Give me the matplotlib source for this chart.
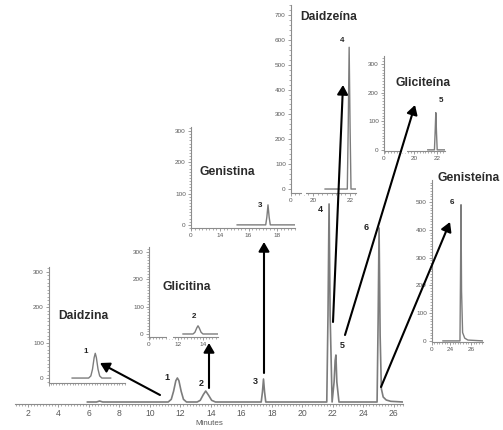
import matplotlib

matplotlib.use("Agg")
import matplotlib.pyplot as plt
from matplotlib.patches import FancyArrowPatch
from matplotlib.ticker import MultipleLocator

plt.rcParams["font.family"] = ["Liberation Sans", "DejaVu Sans"]

W, H = 503, 430
TRACE = "#7c7c7c"
AXIS = "#8c8c8c"
TICKTXT = "#5a5a5a"

# main chromatogram (minutes, signal)
main_t = [5.9, 6.5, 6.7, 6.9, 11.2, 11.4, 11.55, 11.7, 11.8, 11.9, 12.05, 12.2, 12.4,
          13.1, 13.3, 13.5, 13.66, 13.85, 14.05, 14.3, 17.3, 17.38, 17.45, 17.52, 17.6,
          21.6, 21.68, 21.75, 21.82, 21.95, 22.08, 22.15, 22.2, 22.26, 22.4,
          24.9, 24.97, 25.03, 25.1, 25.18, 25.3, 25.5, 25.8, 26.6]
main_y = [0, 0, 3, 0, 0, 8, 32, 64, 72, 64, 32, 8, 0,
          0, 5, 22, 33, 20, 5, 0, 0, 30, 69, 30, 0,
          0, 260, 594, 260, 0, 60, 125, 141, 60, 0,
          0, 250, 522, 200, 40, 15, 6, 2, 0]
main_xticks = [2, 4, 6, 8, 10, 12, 14, 16, 18, 20, 22, 24, 26]
peak_ids = ["1", "2", "3", "4", "5", "6"]
peak_t = [11.8, 13.66, 17.45, 21.75, 22.2, 25.03]
peak_y = [72, 33, 69, 594, 141, 522]

# standards (one inset per compound)
names = ["Daidzina", "Glicitina", "Genistina", "Daidzeína", "Gliciteína", "Genisteína"]
daidzina_t = [9.7, 11.2, 11.4, 11.55, 11.7, 11.8, 11.9, 12.05, 12.2, 12.4, 13.2]
daidzina_y = [0, 0, 6, 25, 58, 70, 58, 25, 6, 0, 0]
glicitina_t = [12.4, 13.2, 13.35, 13.5, 13.6, 13.7, 13.85, 14.0, 15.2]
glicitina_y = [0, 0, 6, 22, 30, 22, 6, 0, 0]
genistina_t = [15.2, 17.2, 17.28, 17.36, 17.44, 17.52, 19.25]
genistina_y = [0, 0, 25, 64, 25, 0, 0]
daidzeina_t = [20.65, 21.85, 21.9, 21.95, 22.0, 22.05, 22.32]
daidzeina_y = [0, 0, 250, 570, 250, 0, 0]
gliciteina_t = [21.2, 21.78, 21.84, 21.9, 21.96, 22.02, 22.7]
gliciteina_y = [0, 0, 60, 130, 60, 0, 0]
genisteina_t = [23.33, 24.95, 25.0, 25.05, 25.1, 25.2, 25.4, 25.7, 27.1]
genisteina_y = [0, 0, 230, 490, 180, 30, 10, 3, 0]

inset_t = [daidzina_t, glicitina_t, genistina_t, daidzeina_t, gliciteina_t, genisteina_t]
inset_y = [daidzina_y, glicitina_y, genistina_y, daidzeina_y, gliciteina_y, genisteina_y]
inset_yticks = [[0, 100, 200, 300]] * 3 + [list(range(0, 800, 100)), [0, 100, 200, 300],
                                           [0, 100, 200, 300, 400, 500]]
inset_xticks = [[], [12, 14], [14, 16, 18], [20, 22], [20, 22], [24, 26]]

# layout (pixels) : left, top, right, bottom ; limits
inset_box = [(49, 267, 125, 383), (149, 247, 218, 337), (191, 127, 295, 228),
             (291, 5, 356, 193), (384, 56, 445, 151), (432, 180, 483, 342)]
inset_xlim = [(7.6, 14.5), (9.68, 15.2), (11.97, 19.25), (18.81, 22.32), (17.39, 22.7), (22.29, 27.14)]
inset_ylim = [(-14, 314), (-11, 318), (-10, 313), (-16, 740), (-4, 328), (-4, 579)]
inset_gap = [None, (11.1, 11.6), None, (19.4, 19.62), (19.0, 19.35), None]
title_pos = [(83, 316), (187, 287), (227, 172), (329, 17), (423, 83), (469, 178)]
label_off = [(-10, 2), (-4, 9), (-8, -1), (-7, 7), (5, 12), (-9, 2)]
main_label_off = [(-10, 1), (-4, 8), (-8, -3), (-9, -6), (6, 10), (-13, 0)]
arrows = [((160, 395), (100, 363)), ((209, 388), (209, 343)), ((264, 373), (264, 242)),
          ((333, 322), (343, 85)), ((345, 335), (415, 105)), ((381, 387), (450, 222))]


def box(left, top, right, bottom):
    return [left / W, 1 - bottom / H, (right - left) / W, (bottom - top) / H]


def style_axis(ax, left=True):
    for side in ["top", "right"]:
        ax.spines[side].set_visible(False)
    ax.spines["bottom"].set_color(AXIS)
    ax.spines["bottom"].set_linewidth(0.8)
    ax.spines["left"].set_color(AXIS)
    ax.spines["left"].set_linewidth(0.8)
    ax.spines["left"].set_visible(left)
    ax.patch.set_alpha(0)
    ax.tick_params(which="major", length=2.2, width=0.6, color=AXIS, pad=1.5, colors=TICKTXT)
    ax.tick_params(which="minor", length=1.3, width=0.5, color=AXIS)


fig = plt.figure(figsize=(W / 100, H / 100), dpi=100)

ax = fig.add_axes(box(15, 100, 403, 404))
ax.plot(main_t, main_y, color=TRACE, lw=1.2)
ax.set_xlim(1.15, 26.6)
ax.set_ylim(-6, 906)
style_axis(ax, left=False)
ax.set_yticks([])
ax.set_xticks(main_xticks)
ax.xaxis.set_minor_locator(MultipleLocator(0.2))
ax.tick_params(axis="x", labelsize=6.2)
ax.set_xlabel("Minutes", fontsize=5.8, color=TICKTXT, labelpad=1)
for pid, t, y, off in zip(peak_ids, peak_t, peak_y, main_label_off):
    ax.annotate(pid, (t, y), xytext=off, textcoords="offset pixels", ha="center", va="center",
                fontsize=6.5, fontweight="bold", color="#222222")

for i in range(6):
    a = fig.add_axes(box(*inset_box[i]))
    a.plot(inset_t[i], inset_y[i], color=TRACE, lw=1.0)
    a.set_xlim(*inset_xlim[i])
    a.set_ylim(*inset_ylim[i])
    style_axis(a)
    a.set_yticks(inset_yticks[i])
    a.yaxis.set_minor_locator(MultipleLocator(10 if i != 3 else 20))
    x0 = inset_xlim[i][0]
    if inset_xticks[i]:
        a.set_xticks([x0] + inset_xticks[i])
        a.set_xticklabels(["0"] + [str(v) for v in inset_xticks[i]])
    else:
        a.set_xticks([x0])
        a.set_xticklabels([])
    a.xaxis.set_minor_locator(MultipleLocator(0.25))
    a.tick_params(labelsize=4.6)
    if inset_gap[i]:
        g0, g1 = inset_gap[i]
        y0 = inset_ylim[i][0]
        a.plot([g0, g1], [y0, y0], color="white", lw=3, clip_on=False, zorder=5,
               solid_capstyle="butt")
    pk = max(range(len(inset_y[i])), key=lambda k: inset_y[i][k])
    a.annotate(peak_ids[i], (inset_t[i][pk], inset_y[i][pk]), xytext=label_off[i],
               textcoords="offset pixels", ha="center", va="center",
               fontsize=5.8, fontweight="bold", color="#222222")
    tx, ty = title_pos[i]
    fig.text(tx / W, 1 - ty / H, names[i], ha="center", va="center",
             fontsize=8.7, fontweight="bold", color="#2a2a2a")

for (x0, y0), (x1, y1) in arrows:
    arr = FancyArrowPatch((x0 / W, 1 - y0 / H), (x1 / W, 1 - y1 / H), transform=fig.transFigure,
                          arrowstyle="-|>,head_length=0.55,head_width=0.32", mutation_scale=10,
                          color="black", lw=1.5, shrinkA=0, shrinkB=0)
    fig.add_artist(arr)

fig.savefig("out.png", dpi=100)
